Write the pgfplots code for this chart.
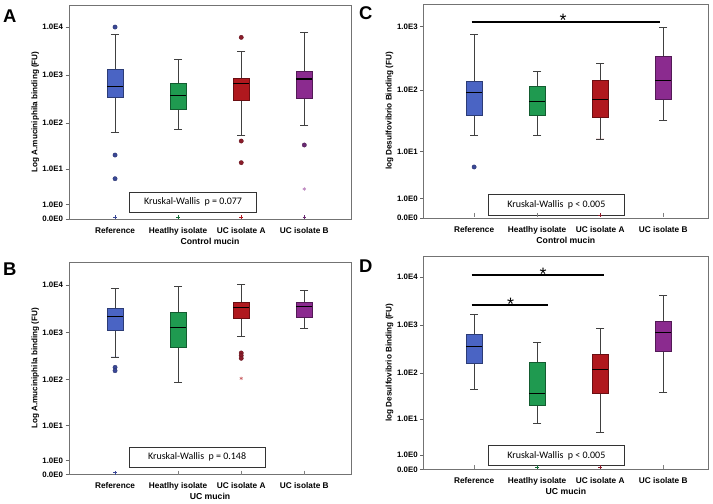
\documentclass[border=0pt]{standalone}
\usepackage{fontspec}
\setmainfont{Liberation Sans}
\newfontfamily\calfont{Carlito}
\usepackage{pgfplots}
\usepgfplotslibrary{statistics}
\pgfplotsset{compat=1.18}
\definecolor{cblue}{HTML}{4A64C4}
\definecolor{cgreen}{HTML}{1F9A50}
\definecolor{cred}{HTML}{B0181E}
\definecolor{cpurp}{HTML}{8B2B8F}
\definecolor{oblue}{HTML}{3A4896}
\definecolor{ored}{HTML}{8A1C2A}
\definecolor{opurp}{HTML}{6A2A72}
\tikzset{
  kwtext/.style={font=\calfont\fontsize{10}{11}\selectfont},
  sigstar/.style={font=\fontsize{18}{18}\selectfont, yshift=-3.5bp},
  sigbar/.style={line width=2.2bp, draw=black},
}
% y values are positions on the axis: log10(FU + 1)
\pgfplotsset{
  panel/.style={
    scale only axis, clip=false, ymin=0,
    boxplot/draw direction=y,
    axis line style={draw=black!55, line width=0.6bp},
    xtick={0,1,2,3},
    xticklabels={Reference,Heatlhy isolate,UC isolate A,UC isolate B},
    xtick style={draw=none},
    xticklabel style={font=\bfseries\fontsize{8.3}{9}\selectfont, yshift=-1bp},
    ytick={0,0.30103,1.04139,2.00432,3.00043,4.00004},
    yticklabels={\textbf{0.0E0},\textbf{1.0E0},\textbf{1.0E1},\textbf{1.0E2},\textbf{1.0E3},\textbf{1.0E4}},
    yticklabel style={font=\fontsize{7.9}{8}\selectfont, xshift=1bp},
    tick align=outside, tick pos=left,
    ytick style={draw=black!60, line width=0.6bp},
    major tick length=3.5bp,
    ylabel style={font=\bfseries\fontsize{8.2}{9}\selectfont, at={(axis description cs:-0.12,0.5)}, anchor=center},
    xlabel style={font=\bfseries\fontsize{8.7}{9}\selectfont, at={(axis description cs:0.5,0)}, yshift=-22bp, anchor=center},
  },
  bx/.style={fill=#1, draw=#1!60!black, line width=0.6bp,
    boxplot/draw direction=y,
    boxplot/box extend=0.25, boxplot/whisker extend=0.13,
    boxplot/every median/.style={draw=black, line width=1.1bp},
    boxplot/every whisker/.style={draw=black!75, line width=0.8bp}},
  outl/.style={only marks, mark=*, mark size=2.2bp, mark options={fill=#1, draw=#1!70!black, line width=0.3bp}},
  ext/.style={only marks, mark=asterisk, mark size=1.8bp, mark options={draw=#1, line width=0.5bp}},
  basetick/.style={only marks, mark=|, mark size=2bp, mark options={draw=black!50, line width=0.5bp}},
  basemark/.style={only marks, mark=+, mark size=1.8bp, mark options={draw=#1, line width=0.6bp}},
}
\begin{document}
\begin{tikzpicture}
\path[use as bounding box] (0,0) rectangle (713bp,504bp);
% ---------------- Panel A ----------------
\begin{axis}[panel, at={(69bp,499bp)}, anchor=north west, width=282bp, height=214bp,
  xmin=-0.73, xmax=3.74, ymax=4.46,
  ylabel={Log A.muciniphila binding (FU)}, xlabel={Control mucin}]
\addplot[bx=cblue, boxplot prepared={draw position=0, lower whisker=1.806, lower quartile=2.542, median=2.764, upper quartile=3.118, upper whisker=3.847}] coordinates {};
\addplot[bx=cgreen, boxplot prepared={draw position=1, lower whisker=1.875, lower quartile=2.285, median=2.576, upper quartile=2.826, upper whisker=3.333}] coordinates {};
\addplot[bx=cred, boxplot prepared={draw position=2, lower whisker=1.75, lower quartile=2.465, median=2.819, upper quartile=2.938, upper whisker=3.5}] coordinates {};
\addplot[bx=cpurp, boxplot prepared={draw position=3, lower whisker=1.958, lower quartile=2.507, median=2.917, upper quartile=3.083, upper whisker=3.882}] coordinates {};
\addplot[outl=oblue] coordinates {(0,4.0) (0,1.333) (0,0.84)};
\addplot[outl=ored] coordinates {(2,3.785) (2,1.625) (2,1.174)};
\addplot[outl=opurp] coordinates {(3,1.542)};
\addplot[ext=cpurp!60] coordinates {(3,0.625)};
\addplot[basemark=oblue] coordinates {(0,0.042)};
\addplot[basemark=cgreen!70!black] coordinates {(1,0.042)};
\addplot[basemark=cred] coordinates {(2,0.042)};
\addplot[basemark=opurp] coordinates {(3,0.042)};
\draw[black!80, line width=0.6bp] (axis cs:0.227,0.139) rectangle (axis cs:2.245,0.556);
\node[kwtext] at (axis cs:1.236,0.3475) {Kruskal-Wallis\ \ p = 0.077};
\end{axis}
% ---------------- Panel C ----------------
\begin{axis}[panel, at={(423.7bp,500bp)}, anchor=north west, width=284.3bp, height=214bp,
  xmin=-0.80, xmax=3.71, ymax=3.355,
  ylabel={log Desulfovibrio Binding (FU)}, xlabel={Control mucin}]
\addplot[bx=cblue, boxplot prepared={draw position=0, lower whisker=1.299, lower quartile=1.603, median=1.971, upper quartile=2.147, upper whisker=2.877}] coordinates {};
\addplot[bx=cgreen, boxplot prepared={draw position=1, lower whisker=1.299, lower quartile=1.608, median=1.832, upper quartile=2.061, upper whisker=2.291}] coordinates {};
\addplot[bx=cred, boxplot prepared={draw position=2, lower whisker=1.24, lower quartile=1.576, median=1.853, upper quartile=2.163, upper whisker=2.429}] coordinates {};
\addplot[bx=cpurp, boxplot prepared={draw position=3, lower whisker=1.523, lower quartile=1.859, median=2.152, upper quartile=2.531, upper whisker=2.984}] coordinates {};
\addplot[outl=oblue] coordinates {(0,0.80)};
\addplot[basetick] coordinates {(0,0.047) (1,0.047) (3,0.047)};
\addplot[basemark=ored] coordinates {(2,0.047)};
\draw[sigbar] (axis cs:-0.04,3.07) -- (axis cs:2.95,3.07);
\node[sigstar] at (axis cs:1.41,3.15) {*};
\draw[black!80, line width=0.6bp] (axis cs:0.222,0.042) rectangle (axis cs:2.386,0.365);
\node[kwtext] at (axis cs:1.304,0.2035) {Kruskal-Wallis\ \ p < 0.005};
\end{axis}
% ---------------- Panel B ----------------
\begin{axis}[panel, at={(69bp,242bp)}, anchor=north west, width=282bp, height=212.7bp,
  xmin=-0.73, xmax=3.74, ymax=4.49,
  ylabel={Log A.muciniphila binding (FU)}, xlabel={UC mucin}]
\addplot[bx=cblue, boxplot prepared={draw position=0, lower whisker=2.486, lower quartile=3.045, median=3.342, upper quartile=3.505, upper whisker=3.929}] coordinates {};
\addplot[bx=cgreen, boxplot prepared={draw position=1, lower whisker=1.94, lower quartile=2.691, median=3.108, upper quartile=3.434, upper whisker=3.979}] coordinates {};
\addplot[bx=cred, boxplot prepared={draw position=2, lower whisker=2.910, lower quartile=3.292, median=3.526, upper quartile=3.632, upper whisker=4.014}] coordinates {};
\addplot[bx=cpurp, boxplot prepared={draw position=3, lower whisker=3.087, lower quartile=3.321, median=3.554, upper quartile=3.646, upper whisker=3.894}] coordinates {};
\addplot[outl=oblue] coordinates {(0,2.266) (0,2.195)};
\addplot[outl=ored] coordinates {(2,2.570) (2,2.515) (2,2.457)};
\addplot[ext=cred!70] coordinates {(2,2.033)};
\addplot[basetick] coordinates {(1,0.042) (2,0.042) (3,0.042)};
\addplot[basemark=oblue] coordinates {(0,0.042)};
\draw[black!80, line width=0.6bp] (axis cs:0.226,0.148) rectangle (axis cs:2.379,0.585);
\node[kwtext] at (axis cs:1.30,0.3665) {Kruskal-Wallis\ \ p = 0.148};
\end{axis}
% ---------------- Panel D ----------------
\begin{axis}[panel, at={(423.7bp,248bp)}, anchor=north west, width=284.3bp, height=213.3bp,
  xmin=-0.80, xmax=3.71, ymax=4.435,
  ylabel={log Desulfovibrio Binding (FU)}, xlabel={UC mucin}]
\addplot[bx=cblue, boxplot prepared={draw position=0, lower whisker=1.655, lower quartile=2.2, median=2.562, upper quartile=2.807, upper whisker=3.218}] coordinates {};
\addplot[bx=cgreen, boxplot prepared={draw position=1, lower whisker=0.948, lower quartile=1.327, median=1.585, upper quartile=2.234, upper whisker=2.646}] coordinates {};
\addplot[bx=cred, boxplot prepared={draw position=2, lower whisker=0.761, lower quartile=1.572, median=2.067, upper quartile=2.395, upper whisker=2.925}] coordinates {};
\addplot[bx=cpurp, boxplot prepared={draw position=3, lower whisker=1.606, lower quartile=2.451, median=2.842, upper quartile=3.079, upper whisker=3.609}] coordinates {};
\addplot[basetick] coordinates {(0,0.042) (3,0.042)};
\addplot[basemark=cgreen!70!black] coordinates {(1,0.042)};
\addplot[basemark=ored] coordinates {(2,0.042)};
\draw[sigbar] (axis cs:-0.04,4.035) -- (axis cs:2.06,4.035);
\node[sigstar] at (axis cs:1.095,4.12) {*};
\draw[sigbar] (axis cs:-0.04,3.414) -- (axis cs:1.164,3.414);
\node[sigstar] at (axis cs:0.58,3.50) {*};
\draw[black!80, line width=0.6bp] (axis cs:0.222,0.076) rectangle (axis cs:2.386,0.499);
\node[kwtext] at (axis cs:1.304,0.2875) {Kruskal-Wallis\ \ p < 0.005};
\end{axis}
% panel letters
\node[anchor=base west, inner sep=0, font=\bfseries\fontsize{18.5}{19}\selectfont] at (3bp,481bp) {A};
\node[anchor=base west, inner sep=0, font=\bfseries\fontsize{18.5}{19}\selectfont] at (359bp,484bp) {C};
\node[anchor=base west, inner sep=0, font=\bfseries\fontsize{18.5}{19}\selectfont] at (3bp,228.7bp) {B};
\node[anchor=base west, inner sep=0, font=\bfseries\fontsize{18.5}{19}\selectfont] at (359bp,231.3bp) {D};
\end{tikzpicture}
\end{document}
